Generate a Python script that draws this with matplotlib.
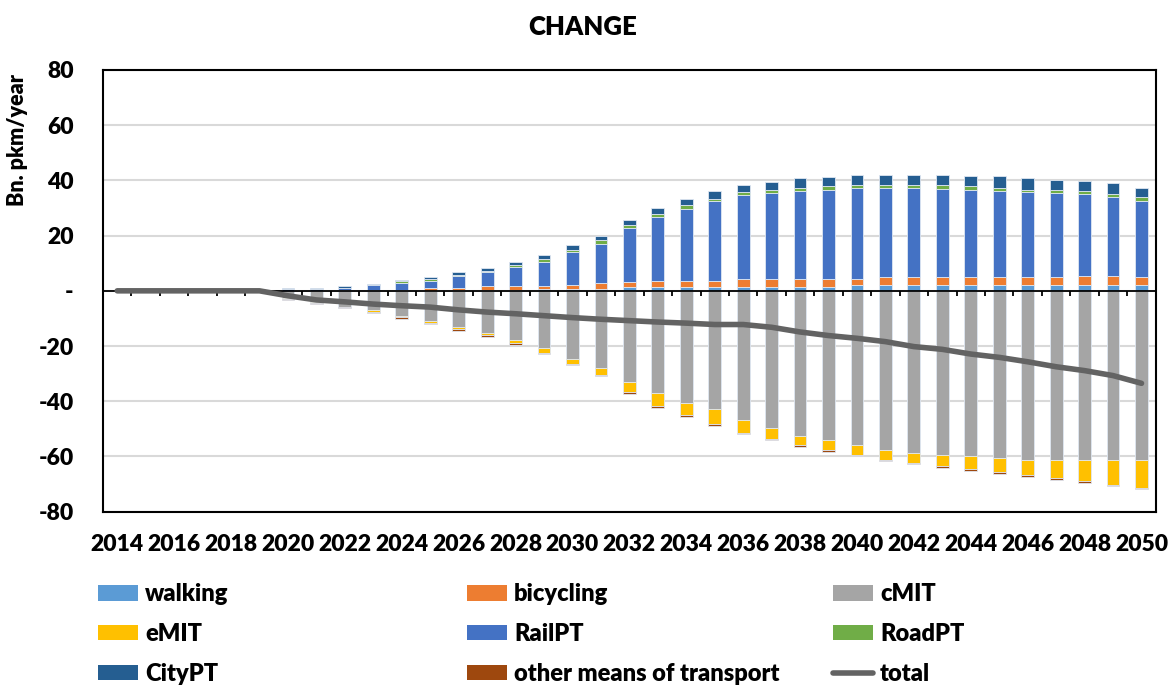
import numpy as np
import matplotlib
matplotlib.use("Agg")
import matplotlib.pyplot as plt
import matplotlib.transforms as mtransforms
from matplotlib.patches import Patch
from matplotlib.lines import Line2D

plt.rcParams['font.family'] = ['Lato', 'DejaVu Sans']
WEIGHT = 'heavy'
plt.rcParams['font.weight'] = WEIGHT

# ------------------------------------------------------------------ #
# data (Bn. pkm/year, change vs. reference)
# ------------------------------------------------------------------ #
years = list(range(2014, 2051))

walking = [0, 0, 0, 0, 0, 0,
           0, 0, 0, 0, 0, 0.1, 0.2, 0.2, 0.2, 0.6, 0.6, 0.6, 1.4, 1.4, 1.4,
           1.4, 1.4, 1.4, 1.4, 1.4, 2.1, 2.1, 2.1, 2.1, 2.1, 2.1, 2.1, 2.1,
           2.1, 2.1, 2.1]
bicycling = [0, 0, 0, 0, 0, 0,
             0.1, 0.1, 0.2, 0.2, 0.3, 0.9, 0.8, 1.4, 1.4, 1.2, 1.6, 2.2, 1.7,
             2.3, 2.3, 2.3, 2.9, 2.9, 2.9, 2.9, 2.3, 2.9, 2.9, 2.9, 2.9, 2.9,
             2.9, 2.9, 3.4, 3.4, 2.9]
cMIT = [0, 0, 0, 0, 0, 0,
        -2.7, -4.2, -5.9, -6.9, -9.1, -10.9, -13.2, -15.4, -17.8, -20.7,
        -24.7, -28.0, -33.2, -37.1, -40.8, -42.8, -46.8, -49.6, -52.5, -54.1,
        -55.9, -57.7, -58.9, -59.3, -59.9, -60.5, -61.1, -61.1, -61.1, -61.1,
        -61.1]
eMIT = [0, 0, 0, 0, -0.2, -0.2,
        -0.2, -0.3, -0.1, -0.7, -0.5, -0.6, -0.7, -0.7, -1.2, -1.7, -1.7,
        -2.5, -3.5, -4.6, -4.2, -5.6, -4.6, -4.0, -3.3, -3.6, -3.4, -3.4,
        -3.4, -4.2, -4.6, -5.1, -5.6, -6.8, -7.9, -9.1, -10.2]
RailPT = [0, 0, 0, 0, 0, 0,
          0.5, 0.5, 0.8, 1.8, 2.4, 2.7, 4.5, 5.1, 7.1, 8.8, 12.0, 14.3, 19.8,
          23.1, 26.1, 28.9, 30.3, 31.3, 31.7, 32.3, 32.8, 32.2, 32.2, 31.8,
          31.7, 31.1, 30.7, 30.6, 29.5, 28.4, 27.7]
RoadPT = [0, 0, 0, 0, 0, 0,
          0.1, 0.1, 0.2, 0.1, 0.7, 0.6, 0.2, 0.6, 0.6, 0.8, 0.7, 1.3, 0.8,
          1.0, 1.3, 0.7, 1.2, 1.0, 1.2, 1.2, 1.3, 1.3, 1.3, 1.7, 1.2, 1.2,
          1.0, 1.1, 1.3, 1.3, 1.3]
CityPT = [0, 0, 0, 0, 0, 0,
          0.4, 0.5, 0.5, 0.5, 0.4, 0.7, 1.2, 1.0, 1.2, 1.6, 1.7, 1.5, 1.9,
          2.2, 2.2, 2.9, 2.7, 3.0, 3.6, 3.6, 3.6, 3.6, 3.6, 3.6, 3.6, 4.2,
          4.2, 3.6, 3.4, 3.9, 3.3]
other = [0, 0, 0, 0, 0, 0,
         -0.3, -0.3, -0.4, -0.6, -0.5, -0.6, -0.5, -0.5, -0.5, -0.5, -0.5,
         -0.5, -0.5, -0.6, -0.6, -0.6, -0.6, -0.6, -0.6, -0.6, -0.5, -0.5,
         -0.5, -0.5, -0.6, -0.6, -0.6, -0.6, -0.6, -0.6, -0.6]
total = [0, 0, 0, 0, 0, 0,
         -1.8, -3.3, -4.0, -4.8, -5.4, -5.9, -6.9, -7.7, -8.3, -9.0, -9.7,
         -10.3, -10.8, -11.3, -11.7, -12.2, -12.2, -13.2, -14.9, -16.2, -17.2,
         -18.4, -20.2, -21.2, -22.9, -24.1, -25.7, -27.5, -28.9, -30.7, -33.5]

series = [
    ('walking', walking, '#5B9BD5'),
    ('bicycling', bicycling, '#ED7D31'),
    ('cMIT', cMIT, '#A5A5A5'),
    ('eMIT', eMIT, '#FFC000'),
    ('RailPT', RailPT, '#4472C4'),
    ('RoadPT', RoadPT, '#70AD47'),
    ('CityPT', CityPT, '#255E91'),
    ('other means of transport', other, '#9E480E'),
]
total_color = '#636363'

# ------------------------------------------------------------------ #
# figure
# ------------------------------------------------------------------ #
fig = plt.figure(figsize=(11.68, 6.86), dpi=100)
ax = fig.add_axes([0.0882, 0.2541, 0.9013, 0.6439])

x = np.arange(len(years))
pos_bottom = np.zeros(len(years))
neg_bottom = np.zeros(len(years))
for name, vals, color in series:
    v = np.array(vals, dtype=float)
    bottom = np.where(v >= 0, pos_bottom, neg_bottom)
    ax.bar(x, v, 0.45, bottom=bottom, color=color,
           edgecolor='#dfe7f2', linewidth=0.6, zorder=2)
    pos_bottom += np.where(v > 0, v, 0)
    neg_bottom += np.where(v < 0, v, 0)

ax.plot(x, total, color=total_color, lw=4.0, solid_capstyle='round',
        solid_joinstyle='round', zorder=4)

# zero axis with category ticks
ax.axhline(0, color='black', lw=1.3, zorder=3)
trans = mtransforms.blended_transform_factory(ax.transData, ax.transAxes)
ax.vlines(x[:-1] + 0.5, 0.5 - 0.012, 0.5, color='black', lw=1.3,
          transform=trans, zorder=3)

ax.set_xlim(-0.5, len(years) - 0.5)
ax.set_ylim(-80, 80)
ax.set_yticks(range(-80, 81, 20))
ax.set_yticklabels([str(t) if t != 0 else '-' for t in range(-80, 81, 20)])
ax.set_xticks(x[::2])
ax.set_xticklabels([str(y) for y in years[::2]])
ax.tick_params(axis='both', length=0, labelsize=16.5)
ax.tick_params(axis='y', pad=21)
ax.tick_params(axis='x', pad=16)
for lab in ax.get_xticklabels() + ax.get_yticklabels():
    lab.set_fontweight(WEIGHT)

ax.grid(axis='y', color='#d9d9d9', lw=1.5, zorder=0)
ax.set_axisbelow(True)
for sp in ax.spines.values():
    sp.set_color('black')
    sp.set_linewidth(1.5)

fig.text(0.499, 0.9606, 'CHANGE', ha='center', va='center',
         fontsize=18.5, fontweight=WEIGHT)
fig.text(0.0154, 1 - 140 / 686, 'Bn. pkm/year', rotation=90, ha='center',
         va='center', fontsize=15.5, fontweight=WEIGHT)

# legend: 3 columns laid out like the original
handles = {}
for name, vals, color in series:
    handles[name] = Patch(facecolor=color, edgecolor='none')
handles['total'] = Line2D([], [], color=total_color, lw=4.0,
                          solid_capstyle='round')
columns = [['walking', 'eMIT', 'CityPT'],
           ['bicycling', 'RailPT', 'other means of transport'],
           ['cMIT', 'RoadPT', 'total']]
col_x = [98, 467, 833]
for cx, names in zip(col_x, columns):
    leg = fig.legend([handles[n] for n in names], names,
                     loc='upper left', bbox_to_anchor=(cx / 1168, 1 - 583 / 686),
                     frameon=False, borderpad=0, borderaxespad=0,
                     handlelength=1.69, handleheight=0.64, handletextpad=0.3,
                     labelspacing=0.76, prop={'size': 17, 'weight': WEIGHT})

fig.savefig('out.png', dpi=100)
